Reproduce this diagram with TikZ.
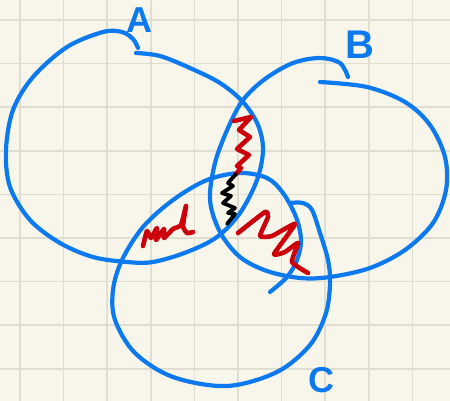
\documentclass[tikz,border=0pt]{standalone}
\usepackage{fontspec}
\setmainfont{Liberation Sans}
\definecolor{paper}{RGB}{248,246,235}
\definecolor{gridc}{RGB}{224,222,209}
\definecolor{penblue}{RGB}{12,122,238}
\definecolor{penred}{RGB}{204,0,10}
\begin{document}
\begin{tikzpicture}[x=1pt,y=-1pt,
  gridline/.style={draw=gridc,line width=1.6pt},
  blueline/.style={draw=penblue,line width=4.2pt,line cap=round,line join=round},
  redline/.style={draw=penred,line width=4.6pt,line cap=round,line join=round},
  blackline/.style={draw=black,line width=3.8pt,line cap=round,line join=round},
  setlabel/.style={text=penblue,inner sep=0pt,font=\bfseries\fontsize{36}{36}\selectfont}]
\fill[paper] (0,0) rectangle (450,401);
\useasboundingbox (0,0) rectangle (450,401);
\foreach \i in {0,...,9} \draw[gridline] ({20+43.6*\i},0) -- ({20+43.6*\i},401);
\foreach \i in {0,...,8} \draw[gridline] (0,{20+43.6*\i}) -- (450,{20+43.6*\i});
% set A
\draw[blueline] plot[smooth,tension=0.55] coordinates {(138,48) (133,39) (122,32) (103,32) (67,47) (33,77) (13,110) (6,150) (10,187) (30,220) (60,243) (93,257) (127,262) (153,262) (187,252) (217,237) (240,213) (257,180) (263,150) (258,125) (243,102) (220,83) (190,68) (160,56) (136,53)};
% set B
\draw[blueline] plot[smooth,tension=0.55] coordinates {(320,82) (367,87) (405,102) (430,125) (445,157) (446,190) (433,223) (405,250) (370,268) (330,277) (300,278) (267,271) (240,257) (220,232) (210,200) (215,163) (228,128) (243,100) (265,79) (293,63) (320,58) (340,63) (348,77)};
% set C
\draw[blueline] plot[smooth,tension=0.55] coordinates {(290,203) (303,203) (312,210) (320,233) (328,260) (330,283) (326,313) (310,345) (277,372) (227,386) (173,377) (135,353) (115,320) (113,290) (122,260) (143,227) (173,200) (207,180) (240,173) (267,178) (283,193) (296,217) (301,240) (297,260) (287,277) (270,292)};
% labels
\node[setlabel] (labA) at (139,20) {A};
\node[setlabel,font=\bfseries\fontsize{40}{40}\selectfont] (labB) at (360,45) {B};
\node[setlabel] (labC) at (321,380) {C};
% hatching scribbles
\draw[redline] (234,121) -- (251,117) -- (239,130) -- (250,137) -- (237,149) -- (249,155) -- (237,166) -- (241,168) -- (236,174);
\draw[blackline] (236,174) -- (228,183) -- (233,186) -- (222,193) -- (231,196) -- (223,203) -- (235,208) -- (228,213) -- (235,214) -- (227,224);
\draw[redline] plot[smooth,tension=0.3] coordinates {(238,233) (265,212) (268,217) (260,236) (272,236) (295,224) (274,254) (285,252) (298,243) (292,262) (308,273)};
\draw[redline] plot[smooth,tension=0.3] coordinates {(143,246) (147,231) (151,238) (157,228) (156,240) (164,229) (164,238) (173,229) (181,225) (186,206) (183,226) (187,233) (193,232)};
\end{tikzpicture}
\end{document}
